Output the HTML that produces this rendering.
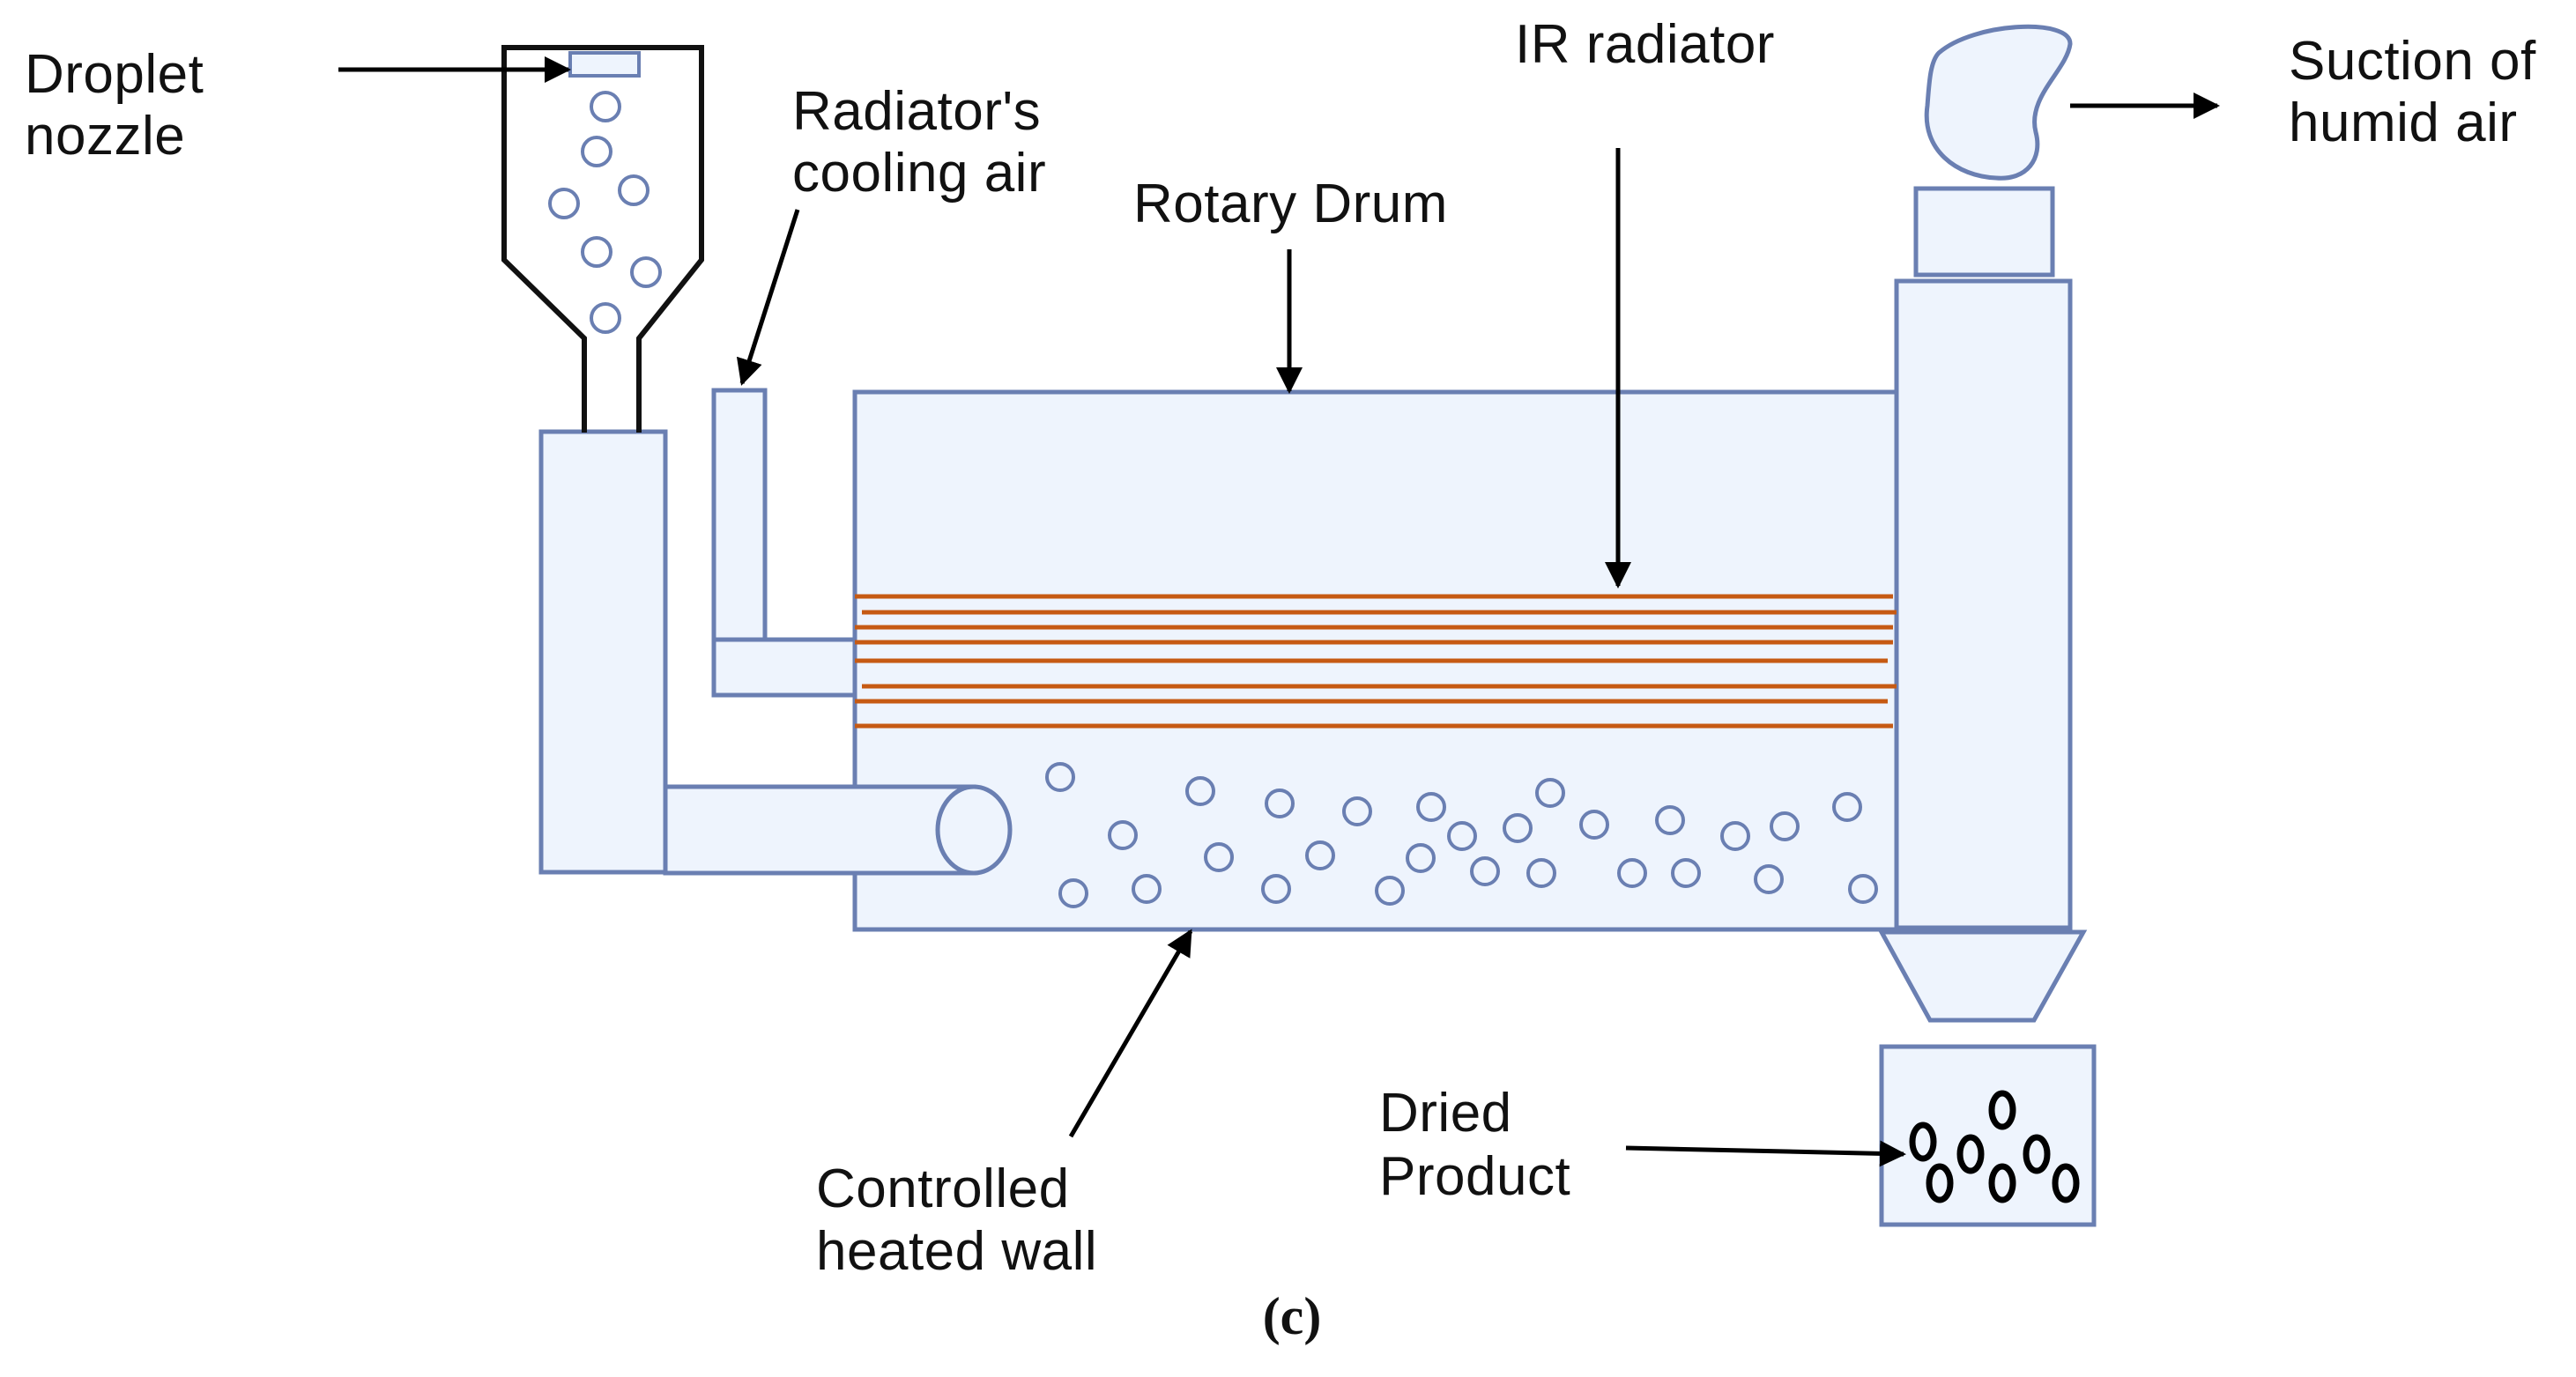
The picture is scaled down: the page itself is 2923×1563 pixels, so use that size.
<!DOCTYPE html>
<html><head><meta charset="utf-8"><style>
html,body{margin:0;padding:0;background:#fff;}
svg{display:block;}
text{font-family:"Liberation Sans",sans-serif;font-size:62px;fill:#111;letter-spacing:0.5px;}
</style></head><body>
<svg width="2923" height="1563" viewBox="0 0 2923 1563" xmlns="http://www.w3.org/2000/svg">
<defs>
<marker id="ah" viewBox="0 0 10 10" refX="9" refY="5" markerWidth="6" markerHeight="6" orient="auto" markerUnits="strokeWidth"><path d="M0,0 L10,5 L0,10 z" fill="#000"/></marker>
</defs>
<g stroke="#6a7fb2" stroke-width="5" fill="#eef4fd">
<!-- drum -->
<rect x="970" y="445" width="1182" height="610"/>
<!-- left column -->
<rect x="614" y="490" width="141" height="500"/>
<!-- pipe -->
<rect x="755" y="893" width="350" height="98"/>
<ellipse cx="1105" cy="942" rx="41" ry="49"/>
<!-- cooling tube -->
<rect x="810" y="443" width="58" height="285"/>
<rect x="810" y="726" width="160" height="63"/>
<!-- chimney -->
<rect x="2174" y="214" width="155" height="98"/>
<rect x="2152" y="319" width="197" height="734"/>
<path d="M2135,1058 L2364,1058 L2308,1158 L2190,1158 Z"/>
<rect x="2135" y="1188" width="241" height="202"/>
<path d="M2200,60 C2240,25 2350,20 2349,50 C2345,80 2300,110 2310,150 C2318,180 2300,205 2265,202 C2220,200 2180,170 2187,120 C2189,95 2190,70 2200,60 Z"/>
<!-- nozzle -->
<rect x="647" y="60" width="78" height="26" stroke-width="4"/>
</g>
<!-- hopper -->
<path d="M663,491 L663,384 L572,295 L572,54 L796,54 L796,295 L725,384 L725,491" fill="none" stroke="#111" stroke-width="6"/>
<!-- radiator lines -->
<g stroke="#c65a13" stroke-width="5">
<line x1="970" y1="677" x2="2148" y2="677"/>
<line x1="978" y1="695" x2="2152" y2="695"/>
<line x1="970" y1="712" x2="2148" y2="712"/>
<line x1="970" y1="729" x2="2148" y2="729"/>
<line x1="970" y1="750" x2="2142" y2="750"/>
<line x1="978" y1="779" x2="2152" y2="779"/>
<line x1="970" y1="796" x2="2142" y2="796"/>
<line x1="970" y1="824" x2="2148" y2="824"/>
</g>
<!-- particles -->
<g fill="none" stroke="#6a7fb2" stroke-width="4">
<circle cx="687" cy="121" r="16"/><circle cx="677" cy="172" r="16"/><circle cx="640" cy="231" r="16"/><circle cx="719" cy="216" r="16"/><circle cx="677" cy="286" r="16"/><circle cx="733" cy="309" r="16"/><circle cx="687" cy="361" r="16"/>
<circle cx="1203" cy="882" r="15"/><circle cx="1362" cy="898" r="15"/><circle cx="1452" cy="912" r="15"/><circle cx="1540" cy="921" r="15"/><circle cx="1624" cy="916" r="15"/><circle cx="1759" cy="900" r="15"/><circle cx="1274" cy="948" r="15"/><circle cx="1383" cy="973" r="15"/><circle cx="1498" cy="971" r="15"/><circle cx="1612" cy="974" r="15"/><circle cx="1659" cy="949" r="15"/><circle cx="1722" cy="940" r="15"/><circle cx="1809" cy="936" r="15"/><circle cx="1895" cy="931" r="15"/><circle cx="1969" cy="949" r="15"/><circle cx="2025" cy="938" r="15"/><circle cx="2096" cy="916" r="15"/><circle cx="1218" cy="1014" r="15"/><circle cx="1301" cy="1009" r="15"/><circle cx="1448" cy="1009" r="15"/><circle cx="1577" cy="1011" r="15"/><circle cx="1685" cy="989" r="15"/><circle cx="1749" cy="991" r="15"/><circle cx="1852" cy="991" r="15"/><circle cx="1913" cy="991" r="15"/><circle cx="2007" cy="998" r="15"/><circle cx="2114" cy="1009" r="15"/>
</g>
<g fill="none" stroke="#000" stroke-width="7">
<ellipse cx="2182" cy="1296" rx="12" ry="19"/><ellipse cx="2201" cy="1343" rx="12" ry="19"/><ellipse cx="2236" cy="1310" rx="12" ry="19"/><ellipse cx="2272" cy="1260" rx="12" ry="19"/><ellipse cx="2272" cy="1343" rx="12" ry="19"/><ellipse cx="2311" cy="1310" rx="12" ry="19"/><ellipse cx="2344" cy="1343" rx="12" ry="19"/>
</g>
<!-- arrows -->
<g stroke="#000" stroke-width="5" fill="none" marker-end="url(#ah)">
<line x1="384" y1="79" x2="645" y2="79"/>
<line x1="905" y1="238" x2="842" y2="435"/>
<line x1="1463" y1="283" x2="1463" y2="444"/>
<line x1="1836" y1="168" x2="1836" y2="665"/>
<line x1="1215" y1="1290" x2="1351" y2="1057"/>
<line x1="1845" y1="1303" x2="2160" y2="1310"/>
<line x1="2349" y1="120" x2="2516" y2="120"/>
</g>
<!-- labels -->
<text x="28" y="105">Droplet</text><text x="28" y="175">nozzle</text>
<text x="899" y="147">Radiator's</text><text x="899" y="217">cooling air</text>
<text x="1286" y="252">Rotary Drum</text>
<text x="1719" y="71">IR radiator</text>
<text x="2597" y="90">Suction of</text><text x="2597" y="160">humid air</text>
<text x="926" y="1370">Controlled</text><text x="926" y="1441">heated wall</text>
<text x="1565" y="1284">Dried</text><text x="1565" y="1356">Product</text>
<text x="1466" y="1514" text-anchor="middle" style="font-family:'Liberation Serif',serif;font-weight:bold;font-size:60px;letter-spacing:0">(c)</text>
</svg>
</body></html>
